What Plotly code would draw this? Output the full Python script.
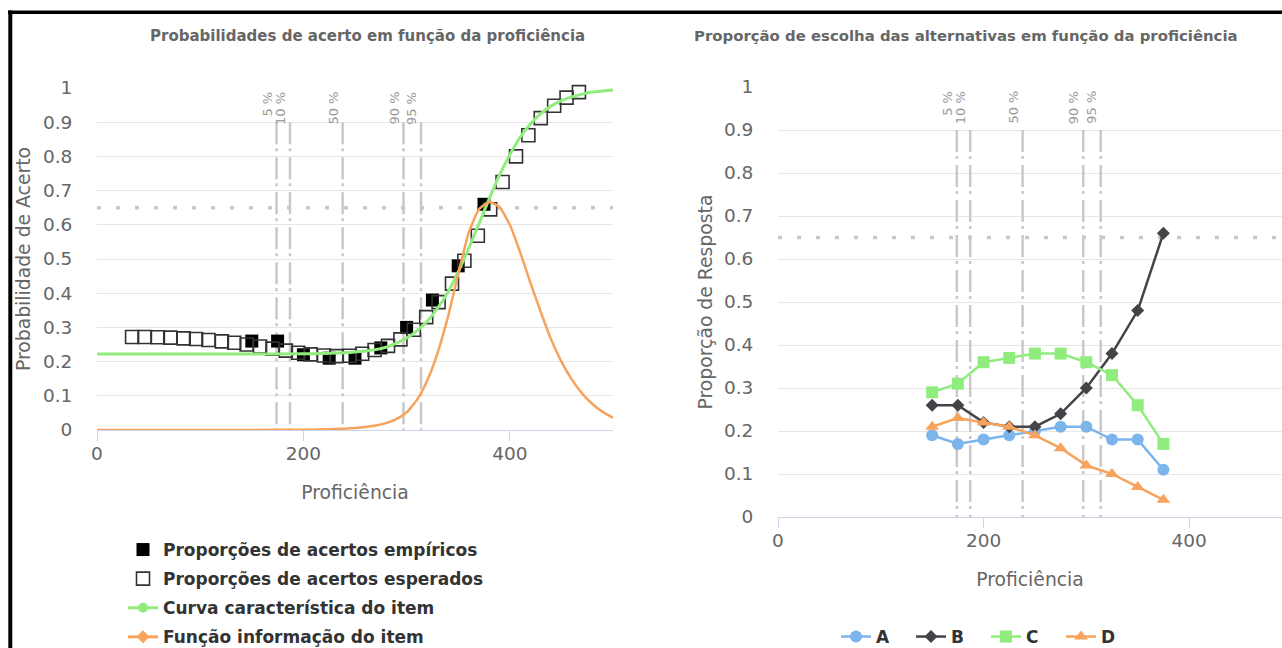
import plotly.graph_objects as go

W, H = 1282, 648

# ---------------- data ----------------
# left chart: empirical proportions (filled squares)
emp_x = [150, 175, 200, 225, 250, 275, 300, 325, 350, 375]
emp_y = [0.26, 0.26, 0.22, 0.21, 0.21, 0.24, 0.30, 0.38, 0.48, 0.66]

# left chart: expected proportions (open squares)
exp_x = [34, 46, 59, 71, 84, 96, 108, 121, 133, 145, 158, 170, 183, 195, 207, 220, 232, 245,
         257, 269, 282, 294, 307, 319, 331, 344, 356, 369, 381, 393, 406, 418, 430, 443, 455, 467]
exp_y = [0.272, 0.272, 0.271, 0.270, 0.268, 0.266, 0.263, 0.259, 0.255, 0.250, 0.244, 0.238,
         0.232, 0.226, 0.221, 0.218, 0.216, 0.217, 0.223, 0.234, 0.246, 0.265, 0.293, 0.330,
         0.374, 0.428, 0.495, 0.568, 0.645, 0.725, 0.800, 0.862, 0.912, 0.948, 0.972, 0.988]

# left chart: item characteristic curve and item information function
curve_x = [0, 50, 100, 150, 200, 210, 220, 230, 240, 250, 260, 270, 280, 290, 300, 310, 320,
           330, 340, 350, 360, 370, 380, 390, 400, 410, 420, 430, 440, 450, 460, 470, 480, 490, 500]
icc_y = [0.222, 0.222, 0.222, 0.222, 0.223, 0.223, 0.224, 0.225, 0.226, 0.228, 0.231, 0.235,
         0.242, 0.254, 0.269, 0.290, 0.318, 0.356, 0.403, 0.462, 0.530, 0.602, 0.676, 0.745,
         0.805, 0.856, 0.895, 0.925, 0.947, 0.963, 0.974, 0.982, 0.988, 0.991, 0.994]
info_y = [0.0, 0.0, 0.0, 0.0, 0.001, 0.001, 0.002, 0.003, 0.004, 0.006, 0.009, 0.013, 0.020,
          0.032, 0.052, 0.088, 0.145, 0.225, 0.330, 0.455, 0.575, 0.645, 0.667, 0.652, 0.600,
          0.520, 0.430, 0.345, 0.265, 0.200, 0.148, 0.107, 0.076, 0.053, 0.036]

# right chart: proportion choosing each alternative
alt_x = [150, 175, 200, 225, 250, 275, 300, 325, 350, 375]
alt_A = [0.19, 0.17, 0.18, 0.19, 0.20, 0.21, 0.21, 0.18, 0.18, 0.11]
alt_B = [0.26, 0.26, 0.22, 0.21, 0.21, 0.24, 0.30, 0.38, 0.48, 0.66]
alt_C = [0.29, 0.31, 0.36, 0.37, 0.38, 0.38, 0.36, 0.33, 0.26, 0.17]
alt_D = [0.21, 0.23, 0.22, 0.21, 0.19, 0.16, 0.12, 0.10, 0.07, 0.04]

# percentile reference lines
pct_x = [174, 187, 238, 297, 314]
pct_labels = ["5 %", "10 %", "50 %", "90 %", "95 %"]
ref_level = 0.65

y_ticks = [0, 0.1, 0.2, 0.3, 0.4, 0.5, 0.6, 0.7, 0.8, 0.9, 1]
y_ticktext = ["0", "0.1", "0.2", "0.3", "0.4", "0.5", "0.6", "0.7", "0.8", "0.9", "1"]
x_ticks = [0, 200, 400]

titles = ["Probabilidades de acerto em função da proficiência",
          "Proporção de escolha das alternativas em função da proficiência"]

# ---------------- styling ----------------
FONT = "DejaVu Sans"
GREEN = "#90ed7d"
ORANGE = "#f7a35c"
BLUE = "#7cb5ec"
DARK = "#434348"
GRID = "#e6e6e6"
AXIS = "#ccd6eb"
LABEL = "#666666"
LEFT_XMAX = 500
RIGHT_XMAX = 490.4


def px(x):
    return x / W


def py(y):
    return 1 - y / H


fig = go.Figure()

# ----- left chart traces -----
fig.add_trace(go.Scatter(
    x=emp_x, y=emp_y, mode="markers", name="<b>Proporções de acertos empíricos</b>",
    marker=dict(symbol="square", size=13, color="#000000", line=dict(width=0)),
    xaxis="x", yaxis="y", legend="legend", legendgroup="g1", cliponaxis=False))
fig.add_trace(go.Scatter(
    x=exp_x, y=exp_y, mode="markers", name="<b>Proporções de acertos esperados</b>",
    marker=dict(symbol="square-open", size=13, color="#333333", line=dict(width=1.6)),
    xaxis="x", yaxis="y", legend="legend", legendgroup="g2", cliponaxis=False))
fig.add_trace(go.Scatter(
    x=curve_x, y=icc_y, mode="lines", line=dict(color=GREEN, width=3, shape="spline", smoothing=0.5),
    xaxis="x", yaxis="y", showlegend=False, hoverinfo="x+y"))
fig.add_trace(go.Scatter(
    x=curve_x, y=info_y, mode="lines", line=dict(color=ORANGE, width=2.5, shape="spline", smoothing=0.5),
    xaxis="x", yaxis="y", showlegend=False, hoverinfo="x+y"))
# legend entries for curves (line + marker symbol)
fig.add_trace(go.Scatter(
    x=[None], y=[None], mode="lines+markers", name="<b>Curva característica do item</b>",
    line=dict(color=GREEN, width=3), marker=dict(symbol="circle", size=10, color=GREEN),
    xaxis="x", yaxis="y", legend="legend", legendgroup="g3"))
fig.add_trace(go.Scatter(
    x=[None], y=[None], mode="lines+markers", name="<b>Função informação do item</b>",
    line=dict(color=ORANGE, width=3), marker=dict(symbol="diamond", size=10, color=ORANGE),
    xaxis="x", yaxis="y", legend="legend", legendgroup="g4"))

# ----- right chart traces -----
for name, vals, color, sym, size in [("A", alt_A, BLUE, "circle", 12),
                                     ("B", alt_B, DARK, "diamond", 10),
                                     ("C", alt_C, GREEN, "square", 12),
                                     ("D", alt_D, ORANGE, "triangle-up", 12)]:
    fig.add_trace(go.Scatter(
        x=alt_x, y=vals, mode="lines+markers", name="<b>" + name + "</b>",
        line=dict(color=color, width=2.5), marker=dict(symbol=sym, size=size, color=color),
        xaxis="x2", yaxis="y2", legend="legend2", cliponaxis=False))

# ----- shapes: percentile lines and reference level -----
shapes = []
for xr, yr, xmax in [("x", "y", LEFT_XMAX), ("x2", "y2", RIGHT_XMAX)]:
    for xv in pct_x:
        shapes.append(dict(type="line", xref=xr, yref=yr, x0=xv, x1=xv, y0=0.9, y1=0,
                           line=dict(color="#c8c8c8", width=2.5, dash="22px,4px,3px,6px"),
                           layer="between"))
    shapes.append(dict(type="line", xref=xr, yref=yr, x0=0, x1=xmax, y0=ref_level, y1=ref_level,
                       line=dict(color="#c8c8c8", width=3.5, dash="4px,15px"), layer="between"))

# black frame (top and left)
shapes.append(dict(type="line", xref="paper", yref="paper", x0=px(8), x1=1.0, y0=py(12.3), y1=py(12.3),
                   line=dict(color="#000000", width=3.5), layer="above"))
shapes.append(dict(type="line", xref="paper", yref="paper", x0=px(10.3), x1=px(10.3), y0=py(10.5), y1=0,
                   line=dict(color="#000000", width=4), layer="above"))

# ----- annotations -----
annotations = []
for xr, yr in [("x", "y"), ("x2", "y2")]:
    for xv, lab in zip(pct_x, pct_labels):
        annotations.append(dict(x=xv, y=1, xref=xr, yref=yr, text=lab, textangle=-90, showarrow=False,
                                xanchor="right", yanchor="top", xshift=0, yshift=-2,
                                font=dict(family=FONT, size=13, color="#999999")))
annotations.append(dict(x=px(367), y=py(36), xref="paper", yref="paper", text="<b>" + titles[0] + "</b>",
                        showarrow=False, xanchor="center", yanchor="middle",
                        font=dict(family=FONT, size=15, color="#666666")))
annotations.append(dict(x=px(966), y=py(36), xref="paper", yref="paper", text="<b>" + titles[1] + "</b>",
                        showarrow=False, xanchor="center", yanchor="middle",
                        font=dict(family=FONT, size=14.9, color="#666666")))

tick_font = dict(family=FONT, size=18.5, color=LABEL)
title_font = dict(family=FONT, size=18.8, color=LABEL)

xaxis_common = dict(range=[0, LEFT_XMAX], tickvals=x_ticks, showgrid=False, zeroline=False, showline=True,
                    linecolor=AXIS, linewidth=1, ticks="outside", ticklen=10, tickcolor=AXIS, tickwidth=1,
                    tickfont=tick_font, ticklabelstandoff=-3, automargin=False, fixedrange=True)
yaxis_common = dict(range=[0, 1], tickvals=y_ticks, ticktext=y_ticktext, showgrid=True, gridcolor=GRID,
                    gridwidth=1, zeroline=False, showline=False, ticks="outside", ticklen=20,
                    tickcolor="rgba(0,0,0,0)", tickfont=tick_font, automargin=False, fixedrange=True)

fig.update_layout(
    width=W, height=H, margin=dict(l=0, r=0, t=0, b=0, autoexpand=False),
    paper_bgcolor="white", plot_bgcolor="white",
    font=dict(family=FONT, color="#333333"),
    xaxis=dict(xaxis_common, domain=[px(97), px(613)],
               title=dict(text="Proficiência", font=title_font, standoff=22)),
    yaxis=dict(yaxis_common, domain=[py(430), py(88)],
               title=dict(text="Probabilidade de Acerto", font=title_font, standoff=7)),
    xaxis2=dict(xaxis_common, range=[0, RIGHT_XMAX], domain=[px(778), 1.0], anchor="y2",
                title=dict(text="Proficiência", font=title_font, standoff=22)),
    yaxis2=dict(yaxis_common, domain=[py(517), py(87)], anchor="x2",
                title=dict(text="Proporção de Resposta", font=title_font, standoff=6)),
    legend=dict(x=px(123), y=-7 / H, xanchor="left", yanchor="bottom", orientation="v",
                font=dict(family=FONT, size=17, color="#333333"), bgcolor="rgba(0,0,0,0)",
                tracegroupgap=4, itemclick=False, itemdoubleclick=False),
    legend2=dict(x=px(836), y=-7 / H, xanchor="left", yanchor="bottom", orientation="h",
                 font=dict(family=FONT, size=17, color="#333333"), bgcolor="rgba(0,0,0,0)",
                 entrywidth=30, itemclick=False, itemdoubleclick=False),
    shapes=shapes, annotations=annotations,
    hovermode="closest",
)

fig.write_html("out.html", post_script="document.body.style.margin='0';",
               config={"displayModeBar": False})
